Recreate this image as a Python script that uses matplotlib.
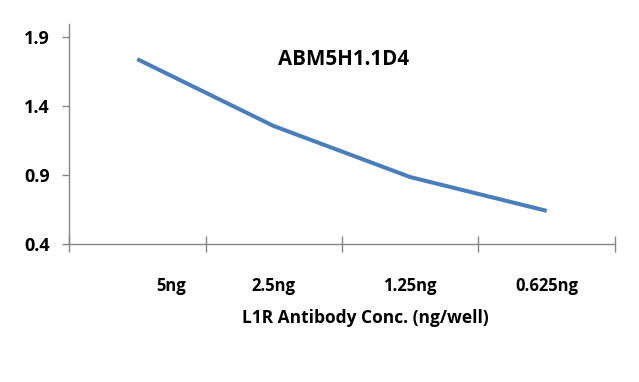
import matplotlib.pyplot as plt
from matplotlib.transforms import ScaledTranslation

categories = ['5ng', '2.5ng', '1.25ng', '0.625ng']
values = [1.74, 1.255, 0.885, 0.64]
y_ticks = [0.4, 0.9, 1.4, 1.9]

plt.rcParams['font.family'] = ['Open Sans', 'DejaVu Sans']
plt.rcParams['font.weight'] = 'bold'

fig = plt.figure(figsize=(6.39, 3.82), dpi=100)
ax = fig.add_axes([0.108, 0.3613, 0.8544, 0.5757])

x = [i + 0.5 for i in range(len(categories))]
ax.plot(x, values, color='#4A7EBB', linewidth=2.9, solid_capstyle='butt')

ax.set_xlim(0, len(categories))
ax.set_ylim(0.4, 1.994)
ax.set_yticks(y_ticks)
ax.set_yticklabels([f'{v:.1f}' for v in y_ticks], fontweight='bold')

# category boundaries carry the tick marks, labels sit in the middle
ax.set_xticks(range(len(categories) + 1), minor=True)
ax.set_xticks(x)
ax.set_xticklabels(categories, fontweight='bold')
ax.tick_params(axis='x', which='major', length=0, pad=24, labelsize=12)
ax.tick_params(axis='x', which='minor', direction='inout', length=11,
               color='#868686', width=1)
ax.tick_params(axis='y', direction='out', length=5, color='#868686',
               width=1, pad=9, labelsize=13)
# first label is drawn a bit off centre in the original
lbl = ax.get_xticklabels()[0]
lbl.set_transform(lbl.get_transform() + ScaledTranslation(0.34, 0, fig.dpi_scale_trans))

for s in ['top', 'right']:
    ax.spines[s].set_visible(False)
for s in ['left', 'bottom']:
    ax.spines[s].set_color('#868686')
    ax.spines[s].set_linewidth(1)

ax.text(0.502, 0.84, 'ABM5H1.1D4', transform=ax.transAxes, ha='center',
        va='center', fontsize=14.8, fontweight='bold')
fig.text(365 / 639, 1 - 318 / 382, 'L1R Antibody Conc. (ng/well)',
         ha='center', va='center', fontsize=12.5, fontweight='bold')

fig.savefig('out.png', dpi=100)
